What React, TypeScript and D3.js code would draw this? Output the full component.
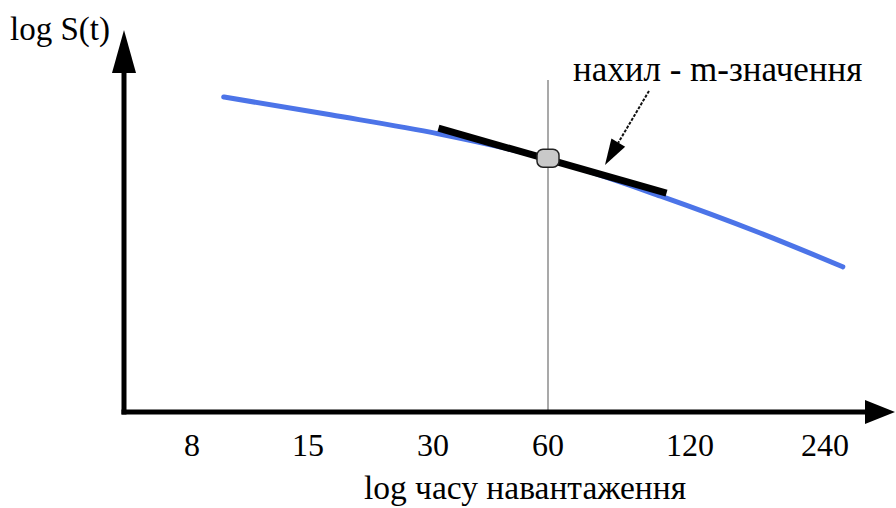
import React from "react";
import * as d3 from "d3";

// ---- data ----
const tickValues = [8, 15, 30, 60, 120, 240];
const tickLabels = ["8", "15", "30", "60", "120", "240"];
// curve: time (load time) vs log S(t) in arbitrary units (0..100)
const curveTime = [9.5, 17, 31, 60, 104, 172, 263];
const curveLogS = [82.9, 78.2, 73.2, 66.6, 56.8, 47.1, 38.2];
// tangent (slope = m-value) segment
const tangentTime = [31, 107];
const tangentLogS = [74.7, 57.6];
const markerTime = 60;
const markerLogS = 66.8;
const yLabel = "log S(t)";
const xLabel = "log часу навантаження";
const annotation = "нахил - m-значення";

// ---- layout ----
const W = 896;
const H = 508;
const axisX = 124;
const axisY = 412;
const yTop = 30;
const xRight = 895;
const tickPos = [192, 308, 433, 548, 690, 825];
const FONT = '"Liberation Serif", "Times New Roman", Times, serif';

export default function App() {
  const x = d3.scaleLog().domain(tickValues).range(tickPos);
  const y = d3.scaleLinear().domain([0, 100]).range([axisY, yTop + 2]);

  const curvePts: [number, number][] = curveTime.map((t, i) => [x(t), y(curveLogS[i])]);
  const line = d3.line<[number, number]>().curve(d3.curveMonotoneX);
  const curvePath = line(curvePts) || "";

  const tangentPts: [number, number][] = tangentTime.map((t, i) => [x(t), y(tangentLogS[i])]);
  const tangentPath = d3.line<[number, number]>()(tangentPts) || "";

  const mx = x(markerTime);
  const my = y(markerLogS);

  // annotation arrow
  const aStart: [number, number] = [649, 91];
  const aTip: [number, number] = [605, 165];
  const headLen = 26;
  const headHalf = 8;
  const dx = aTip[0] - aStart[0];
  const dy = aTip[1] - aStart[1];
  const len = Math.hypot(dx, dy);
  const ux = dx / len;
  const uy = dy / len;
  const bx = aTip[0] - ux * headLen;
  const by = aTip[1] - uy * headLen;
  const head = `M${aTip[0]},${aTip[1]} L${bx - uy * headHalf},${by + ux * headHalf} L${bx + uy * headHalf},${by - ux * headHalf} Z`;

  const ts = { fontFamily: FONT } as React.CSSProperties;

  return (
    <svg
      width={W}
      height={H}
      style={{ position: "absolute", left: 0, top: 0, background: "#fff" }}
    >
      <rect width={W} height={H} fill="#fff" />
      {/* vertical reference line at 60 */}
      <line x1={mx} x2={mx} y1={80} y2={axisY} stroke="#8c8c8c" strokeWidth={1.5} />
      {/* curve */}
      <path d={curvePath} fill="none" stroke="#4c74e8" strokeWidth={5} strokeLinecap="round" />
      {/* tangent */}
      <path d={tangentPath} fill="none" stroke="#000" strokeWidth={7} />
      {/* marker */}
      <rect x={mx - 11} y={my - 9} width={22} height={18} rx={6} fill="#c9c9c9" stroke="#222" strokeWidth={1.5} />
      {/* axes */}
      <line x1={axisX} x2={axisX} y1={axisY + 2.5} y2={yTop + 40} stroke="#000" strokeWidth={5} />
      <path d={`M${axisX},${yTop} L${axisX - 12},${yTop + 43} L${axisX + 12},${yTop + 43} Z`} fill="#000" />
      <line x1={axisX - 2.5} x2={xRight - 28} y1={axisY} y2={axisY} stroke="#000" strokeWidth={5} />
      <path d={`M${xRight},${axisY} L${xRight - 30},${axisY - 12} L${xRight - 30},${axisY + 12} Z`} fill="#000" />
      {/* tick labels */}
      {tickValues.map((v, i) => (
        <text key={v} x={x(v)} y={456} textAnchor="middle" fontSize={32} fill="#000" style={ts}>
          {tickLabels[i]}
        </text>
      ))}
      {/* axis labels */}
      <text x={10} y={40} fontSize={33} fill="#000" style={ts}>{yLabel}</text>
      <text x={525} y={499} textAnchor="middle" fontSize={33.5} fill="#000" style={ts}>{xLabel}</text>
      {/* annotation */}
      <text x={573} y={81} fontSize={35} fill="#000" style={ts}>{annotation}</text>
      <line x1={aStart[0]} y1={aStart[1]} x2={bx} y2={by} stroke="#111" strokeWidth={2} strokeDasharray="3 1.5" />
      <path d={head} fill="#000" />
    </svg>
  );
}
